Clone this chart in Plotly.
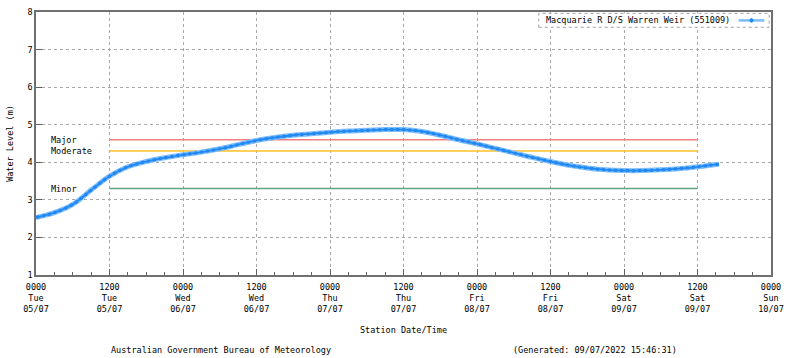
import pandas as pd
import plotly.graph_objects as go

# ---- data ----
start = "2022-07-05 00:00"
hours = [0, 3, 6, 9, 12, 15, 18, 21, 24, 27, 30, 33, 36, 39, 42, 45, 48, 51, 54, 57,
         60, 63, 66, 69, 72, 75, 78, 81, 84, 87, 90, 93, 96, 99, 102, 105, 108, 111.5]
levels = [2.53, 2.66, 2.88, 3.26, 3.63, 3.88, 4.02, 4.12, 4.20, 4.27, 4.36, 4.47, 4.58,
          4.66, 4.72, 4.76, 4.80, 4.83, 4.85, 4.87, 4.87, 4.82, 4.72, 4.60, 4.49, 4.37,
          4.25, 4.13, 4.02, 3.92, 3.85, 3.80, 3.78, 3.78, 3.80, 3.83, 3.88, 3.95]
series_name = "Macquarie R D/S Warren Weir (551009)"

flood_names = ["Major", "Moderate", "Minor"]
flood_levels = [4.6, 4.3, 3.3]
flood_colors = ["#f08080", "#ffc125", "#5fa37f"]
flood_span_hours = [12, 108]

x_range_hours = [0, 120]
y_range = [1, 8]

t0 = pd.Timestamp(start)
times = [t0 + pd.Timedelta(hours=h) for h in hours]
flood_x = [t0 + pd.Timedelta(hours=h) for h in flood_span_hours]

FONT = "DejaVu Sans Mono"
FS = 8.5

fig = go.Figure()

for name, lvl, col in zip(flood_names, flood_levels, flood_colors):
    fig.add_trace(go.Scatter(x=flood_x, y=[lvl, lvl], mode="lines",
                             line=dict(color=col, width=1.5), showlegend=False,
                             hoverinfo="skip"))
    fig.add_annotation(x=0.018, xref="paper", y=lvl, yref="y", text=name,
                       showarrow=False, xanchor="left", yanchor="middle",
                       font=dict(family=FONT, size=FS, color="#000"))

# water level band (light halo + darker dotted core)
fig.add_trace(go.Scatter(x=times, y=levels, mode="lines", line_shape="spline",
                         line=dict(color="#7dbdfb", width=5), showlegend=False,
                         hoverinfo="skip"))
fig.add_trace(go.Scatter(x=times, y=levels, mode="lines", line_shape="spline",
                         line=dict(color="#1a84f2", width=3, dash="dot"),
                         name=series_name, showlegend=False))
fig.add_trace(go.Scatter(x=times, y=levels, mode="lines", line_shape="spline",
                         line=dict(color="#2289f3", width=1.8),
                         showlegend=False, hoverinfo="skip"))

grid = dict(showgrid=True, gridcolor="#a8a8a8", griddash="dot", gridwidth=1)

fig.update_xaxes(
    type="date", automargin=False,
    range=[t0, t0 + pd.Timedelta(hours=x_range_hours[1])],
    tick0=start, dtick=12 * 3600 * 1000,
    tickformat="%H%M<br>%a<br>%d/%m",
    ticks="inside", ticklen=6, tickcolor="#606060",
    ticklabelstandoff=3,
    minor=dict(dtick=3 * 3600 * 1000, ticks="inside", ticklen=3, tickcolor="#606060",
               showgrid=False),
    showline=True, linecolor="#707070", linewidth=1.5, mirror=True,
    tickfont=dict(family=FONT, size=FS, color="#000"),
    title=dict(text="Station Date/Time", font=dict(family=FONT, size=FS, color="#000"),
               standoff=14),
    zeroline=False, **grid,
)
fig.update_yaxes(
    range=y_range, dtick=1, tick0=1, automargin=False,
    ticks="inside", ticklen=6, tickcolor="#606060",
    showline=True, linecolor="#707070", linewidth=1.5, mirror=True,
    tickfont=dict(family=FONT, size=FS, color="#000"),
    title=dict(text="Water Level (m)", font=dict(family=FONT, size=FS, color="#000"),
               standoff=12),
    zeroline=False, **grid,
)

# custom gnuplot-like key: text then sample
fig.add_shape(type="rect", xref="paper", yref="paper", x0=0.684, x1=0.9975,
              y0=0.942, y1=0.995, line=dict(color="#a0a0a0", width=1, dash="dot"),
              fillcolor="white", layer="above")
fig.add_annotation(x=0.947, xref="paper", y=0.968, yref="paper", text=series_name,
                   showarrow=False, xanchor="right", yanchor="middle",
                   font=dict(family=FONT, size=FS, color="#000"))
fig.add_shape(type="line", xref="paper", yref="paper", x0=0.956, x1=0.991,
              y0=0.968, y1=0.968, line=dict(color="#79bcfb", width=2.5), layer="above")
fig.add_shape(type="circle", xref="paper", yref="paper", x0=0.9715, x1=0.9755,
              y0=0.961, y1=0.975, line=dict(color="#1e88f5", width=1),
              fillcolor="#1e88f5", layer="above")

fig.add_annotation(x=(221 - 36) / 734, xref="paper", y=-(350 - 275) / 263, yref="paper",
                   text="Australian Government Bureau of Meteorology", showarrow=False,
                   xanchor="center", yanchor="middle",
                   font=dict(family=FONT, size=FS, color="#000"))
fig.add_annotation(x=(594 - 36) / 734, xref="paper", y=-(350 - 275) / 263, yref="paper",
                   text="(Generated: 09/07/2022 15:46:31)", showarrow=False,
                   xanchor="center", yanchor="middle",
                   font=dict(family=FONT, size=FS, color="#000"))

fig.update_layout(
    width=800, height=358,
    margin=dict(l=36, r=29, t=12, b=83),
    paper_bgcolor="white", plot_bgcolor="white",
    showlegend=False,
    font=dict(family=FONT, size=FS, color="#000"),
)

fig.write_html("out.html",
               config={"displayModeBar": False},
               post_script="document.body.style.margin='0';"
                           "document.body.style.overflow='hidden';")
